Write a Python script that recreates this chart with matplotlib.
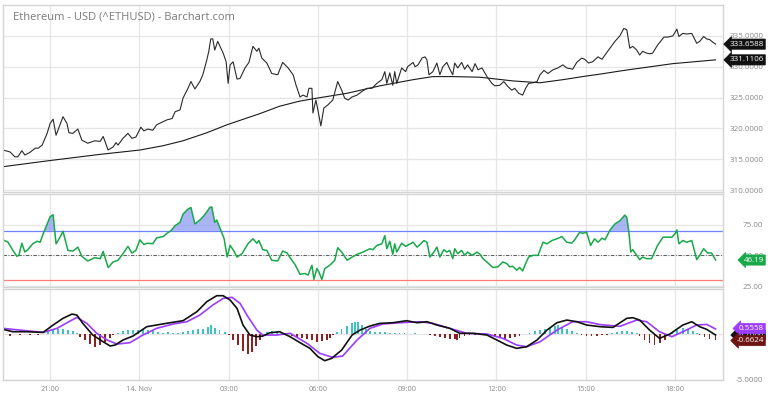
import numpy as np
import pandas as pd
import matplotlib
matplotlib.use('Agg')
import matplotlib.pyplot as plt
import matplotlib.dates as mdates
from matplotlib.ticker import FuncFormatter
import matplotlib.transforms as mtransforms

plt.rcParams['font.family'] = ['Open Sans', 'DejaVu Sans']

# minutes after 13 Nov 19:25 for every series
price_t = [0, 14, 24, 30, 38, 44, 54, 65, 71, 79,
           89, 95, 101, 107, 115, 121, 129, 133, 141, 151,
           159, 171, 185, 196, 202, 212, 222, 228, 232, 242,
           252, 260, 268, 278, 284, 292, 302, 310, 323, 331,
           341, 347, 357, 363, 373, 379, 387, 397, 403, 411,
           415, 419, 423, 427, 433, 444, 450, 454, 458, 464,
           472, 478, 488, 496, 504, 512, 516, 522, 532, 542, 554,
           564, 575, 585, 591, 599, 605, 613, 617, 623, 625,
           631, 635, 641, 647, 655, 665, 675, 683, 689, 696,
           704, 714, 724, 734, 744, 754, 764, 770, 774, 780,
           786, 790, 794, 804, 812, 816, 827, 831, 837, 845,
           851, 855, 859, 867, 875, 881, 887, 895, 901, 907,
           911, 917, 925, 931, 937, 946, 952, 958, 966, 976,
           986, 992, 1002, 1010, 1018, 1026, 1032, 1040, 1048, 1054,
           1060, 1069, 1077, 1083, 1091, 1099, 1109, 1119, 1129, 1137,
           1149, 1157, 1167, 1173, 1181, 1189, 1200,
           1208, 1214, 1224, 1234, 1244, 1252, 1258, 1264, 1270, 1278,
           1284, 1290, 1298, 1304, 1310, 1320, 1333, 1341, 1351, 1359,
           1363, 1371, 1379, 1389, 1399, 1405, 1413, 1419, 1425, 1431, 1437]
price = [316.5, 316.2, 315.4, 315.4, 316.4, 315.7, 316.1, 316.8, 316.8, 317.3,
         319.2, 320.8, 321.5, 318.9, 320.6, 321.9, 320.8, 319.3, 319.2, 319.9,
         318.1, 317.6, 318.0, 317.9, 318.7, 316.5, 317.0, 317.7, 317.3, 318.4,
         319.2, 318.4, 318.6, 320.2, 319.6, 319.9, 319.7, 320.6, 321.1, 321.4,
         321.6, 322.7, 323.0, 324.9, 326.5, 327.6, 326.4, 327.6, 328.7, 331.1,
         332.5, 334.5, 334.5, 332.7, 334.1, 332.2, 330.8, 327.3, 330.3, 330.8,
         328.0, 328.1, 329.8, 330.7, 333.3, 332.5, 333.0, 331.4, 330.6, 328.9, 328.7,
         330.7, 329.8, 328.7, 327.0, 325.1, 325.4, 325.1, 326.5, 326.5, 322.5,
         324.6, 323.0, 320.4, 323.3, 323.8, 324.6, 327.6, 326.2, 324.9, 324.6,
         325.1, 325.4, 326.0, 326.5, 326.5, 327.3, 327.9, 329.2, 327.3, 329.0,
         327.0, 329.2, 327.3, 329.8, 329.2, 330.0, 330.7, 330.0, 330.3, 331.4,
         331.6, 331.1, 328.7, 329.2, 330.6, 328.7, 330.0, 330.7, 329.6, 328.7,
         330.6, 329.8, 330.7, 329.6, 330.3, 329.2, 330.5, 329.5, 329.8, 328.4,
         327.3, 326.9, 327.0, 327.6, 326.8, 326.2, 326.5, 325.7, 325.4, 326.5,
         327.3, 327.4, 327.6, 328.7, 329.4, 328.9, 329.5, 329.8, 330.3, 329.8,
         329.6, 330.7, 331.4, 331.2, 330.6, 330.8, 331.6,
         331.2, 331.9, 333.0, 334.1, 335.0, 336.2, 336.0, 333.0, 333.3, 332.7,
         331.9, 332.5, 332.2, 332.1, 332.2, 333.5, 334.8, 334.8, 335.0, 336.1,
         334.9, 335.4, 335.3, 335.4, 333.8, 334.1, 334.9, 334.5, 334.4, 334.0, 333.6588]

ma_t = [0, 95, 196, 276, 323, 363, 411, 452, 518, 558, 597, 625, 694, 760,
        827, 867, 907, 962, 1028, 1083, 1129, 1177, 1204, 1244, 1270, 1351, 1437]
ma = [313.8, 314.8, 315.8, 316.5, 317.2, 318.0, 319.3, 320.6, 322.4, 323.6, 324.4, 324.8, 325.7, 326.9,
      327.9, 328.4, 328.4, 328.3, 327.7, 327.4, 327.9, 328.5, 328.8, 329.3, 329.6, 330.5, 331.1106]

rsi_t = [0, 10, 20, 28, 32, 38, 44, 50, 60, 69, 75, 81, 89, 95, 101, 107, 115, 121, 131, 141,
         151, 159, 171, 185, 196, 202, 212, 222, 232, 242, 252, 260, 268, 276, 284, 292, 302,
         310, 323, 331, 339, 347, 357, 363, 373, 379, 387, 397, 407, 417, 421, 427, 431, 437,
         446, 452, 458, 464, 472, 482, 494, 504, 512, 516, 524, 532, 542, 554, 564, 573, 579,
         589, 599, 609, 615, 623, 627, 633, 637, 643, 649, 659, 669, 675, 683, 694, 704, 714,
         726, 740, 746, 754, 764, 770, 774, 780, 786, 790, 794, 804, 812, 821, 827, 835, 841,
         849, 855, 861, 869, 875, 881, 889, 895, 901, 907, 911, 917, 925, 931, 937, 946, 956,
         962, 968, 978, 988, 998, 1008, 1016, 1022, 1028, 1036, 1042, 1048, 1054, 1060, 1069,
         1079, 1089, 1097, 1107, 1117, 1127, 1137, 1147, 1153, 1163, 1169, 1177, 1185, 1193,
         1200, 1208, 1214, 1224, 1234, 1244, 1254, 1258, 1262, 1266, 1270, 1278, 1284, 1290,
         1298, 1308, 1320, 1331, 1341, 1349, 1356, 1359, 1363, 1371, 1379, 1389, 1399, 1405,
         1413, 1421, 1429, 1437]
rsi = [62.7, 60.7, 54.0, 49.2, 50.0, 59.9, 52.7, 54.6, 59.4, 61.5, 60.7, 67.5, 75.6, 81.5, 83.1, 59.4, 64.8, 69.6, 54.0, 53.5,
       56.7, 49.2, 45.4, 48.1, 47.3, 53.2, 40.1, 44.6, 46.0, 51.4, 57.3, 51.9, 54.0, 62.7, 58.9, 59.9, 59.4,
       64.3, 65.3, 68.0, 70.2, 74.2, 76.9, 83.6, 87.7, 89.0, 75.6, 78.8, 83.1, 89.0, 89.5, 76.9, 78.8, 72.8,
       63.5, 48.6, 58.1, 54.6, 48.6, 51.4, 59.4, 63.5, 59.9, 62.1, 54.6, 54.0, 46.0, 45.4, 53.5, 51.9, 48.0,
       42.5, 34.5, 35.2, 33.9, 41.9, 30.4, 39.3, 36.5, 30.4, 39.3, 41.9, 46.0, 56.2, 52.7, 46.0, 48.6, 50.8,
       52.7, 55.4, 54.6, 58.1, 59.4, 66.1, 55.4, 61.5, 50.8, 59.4, 52.7, 59.9, 57.3, 59.4, 60.7, 56.7, 58.9,
       62.1, 60.7, 48.6, 52.7, 56.7, 48.6, 54.6, 52.7, 54.0, 47.3, 55.4, 51.4, 54.0, 50.0, 52.7, 50.0, 52.7,
       50.8, 47.3, 43.8, 40.1, 40.6, 44.6, 43.3, 40.6, 41.1, 37.9, 40.1, 37.3, 43.3, 48.6, 50.0,
       50.0, 60.7, 59.4, 62.1, 63.5, 65.3, 60.7, 59.9, 62.7, 68.8, 68.0, 68.8, 58.1, 63.5,
       60.7, 64.0, 62.7, 70.5, 75.6, 78.2, 82.8, 80.9, 69.6, 52.7, 54.6, 50.0, 46.5, 48.6,
       47.3, 47.3, 58.1, 64.8, 64.8, 64.8, 68.0, 70.7, 59.4, 62.1, 60.7, 62.1, 46.5, 50.0,
       55.4, 51.9, 51.9, 46.19]

macd_t = [0, 20, 48, 81, 101, 121, 139, 149, 161, 181, 202, 216, 226, 242, 262, 290, 317, 337, 363, 391,
          411, 431, 444, 458, 472, 484, 498, 512, 524, 538, 558, 579, 599, 619, 635, 649, 663, 683, 704, 720,
          740, 760, 786, 814, 835, 855, 875, 901, 921, 948, 976, 996, 1016, 1036, 1056, 1077, 1097, 1117, 1137, 1157,
          1177, 1204, 1230, 1258, 1270, 1284, 1304, 1324, 1345, 1371, 1389, 1405, 1419, 1437]
macd = [0.51, 0.25, 0.25, 0.18, 0.98, 1.71, 2.17, 2.07, 1.16, -0.11, -0.84, -1.30, -1.20, -0.65, -0.22, 0.80, 1.05, 1.23, 1.45, 2.43,
        3.52, 4.17, 4.17, 3.70, 2.79, 0.98, -0.11, -0.29, -0.22, 0.14, 0.25, -0.29, -0.94, -1.56, -2.46, -2.90, -2.64, -1.74, -0.11, 0.43,
        0.87, 1.16, 1.23, 1.45, 1.23, 1.34, 0.98, 0.62, 0.08, 0.08, -0.11, -0.65, -1.20, -1.56, -1.38, -0.65, 0.43, 1.23, 1.52, 1.34,
        0.98, 0.80, 0.72, 1.71, 1.78, 1.52, 0.43, -0.47, 0.0, 0.98, 1.34, 0.80, 0.51, -0.1066]

signal_t = [0, 34, 81, 109, 129, 149, 169, 189, 210, 230, 256, 282, 310, 343, 371, 397, 423, 444, 462, 478,
            494, 512, 524, 552, 579, 613, 639, 665, 685, 714, 740, 766, 800, 841, 867, 901, 935, 976, 1008, 1036,
            1056, 1083, 1117, 1149, 1177, 1204, 1244, 1278, 1298, 1324, 1349, 1371, 1399, 1419, 1437]
signal = [0.62, 0.43, 0.18, 0.62, 1.23, 1.81, 1.16, 0.08, -0.65, -1.09, -0.94, -0.11, 0.62, 1.09, 1.34, 2.07, 3.15, 3.88, 3.99, 3.34,
          1.88, 0.43, -0.11, -0.11, 0.08, -1.01, -2.10, -2.54, -2.39, -0.65, 0.62, 1.09, 1.23, 1.34, 1.16, 0.62, 0.08, 0.0, -0.47, -1.20,
          -1.38, -0.84, 0.43, 1.34, 1.34, 1.03, 0.84, 1.52, 1.34, 0.25, -0.29, 0.25, 0.98, 1.05, 0.5558]

hist_t = [0, 14, 34, 54, 71, 81, 91, 101, 111, 121, 131, 141, 149, 155, 165, 175, 185, 196, 206, 216,
          222, 232, 242, 252, 262, 272, 282, 292, 302, 312, 323, 333, 343, 353, 363, 373, 383, 393, 403, 413,
          419, 427, 437, 448, 456, 464, 474, 484, 494, 502, 510, 518, 524, 532, 542, 552, 562, 573, 583, 593,
          603, 613, 623, 633, 643, 653, 659, 665, 673, 683, 694, 704, 710, 716, 724, 732, 740, 750, 760, 770,
          780, 790, 800, 810, 821, 831, 841, 851, 861, 871, 881, 891, 901, 911, 915, 921, 931, 941, 952, 962,
          972, 982, 992, 1002, 1012, 1022, 1032, 1042, 1052, 1062, 1073, 1083, 1093, 1103, 1113, 1119, 1127, 1137, 1147, 1157,
          1167, 1177, 1187, 1198, 1208, 1218, 1228, 1238, 1248, 1258, 1268, 1278, 1284, 1294, 1304, 1314, 1325, 1335, 1341, 1349,
          1359, 1371, 1381, 1391, 1399, 1405, 1415, 1425, 1437]
hist = [-0.15, -0.2, -0.15, -0.1, -0.15, 0.05, 0.3, 0.4, 0.5, 0.5, 0.45, 0.3, 0.1, -0.3, -0.7, -1.1, -1.38, -1.2, -0.9, -0.4,
        -0.1, 0.1, 0.3, 0.4, 0.45, 0.45, 0.5, 0.4, 0.3, 0.2, 0.15, 0.2, 0.15, 0.15, 0.2, 0.35, 0.4, 0.5, 0.6, 0.8,
        1.0, 0.7, 0.4, 0.2, -0.1, -0.6, -1.2, -1.8, -2.17, -1.9, -1.3, -0.6, 0.0, 0.2, 0.3, 0.3, 0.25, 0.1, -0.2, -0.3,
        -0.4, -0.5, -0.7, -0.84, -0.8, -0.6, -0.4, -0.1, 0.2, 0.5, 0.9, 1.2, 1.34, 1.3, 1.0, 0.6, 0.3, 0.2, 0.2, 0.2,
        0.15, 0.15, 0.1, 0.1, 0.05, 0.1, 0.05, 0.05, -0.1, -0.2, -0.3, -0.4, -0.5, -0.55, -0.65, -0.4, -0.2, -0.1, -0.05, 0.05,
        0.0, -0.1, -0.2, -0.4, -0.5, -0.4, -0.3, -0.2, 0.0, 0.15, 0.3, 0.4, 0.5, 0.7, 0.9, 0.98, 0.8, 0.5, 0.3, 0.1,
        -0.1, -0.2, -0.25, -0.2, -0.15, -0.05, 0.1, 0.25, 0.3, 0.3, 0.25, 0.1, -0.2, -0.6, -1.0, -1.2, -1.0, -0.6, -0.2, 0.1,
        0.4, 0.62, 0.5, 0.3, 0.1, -0.1, -0.3, -0.5, -0.6624]

start = pd.Timestamp('2017-11-13 19:25')


def tnum(mins):
    return mdates.date2num(start + pd.to_timedelta(mins, unit='m'))


GRID = '#e6e6e6'
EDGE = '#d4d4d4'
LBL = '#8a8a8a'

fig = plt.figure(figsize=(7.68, 3.96), dpi=100)
L, W = 3 / 768, 720 / 768
ax1 = fig.add_axes([L, 1 - 192 / 396, W, 187 / 396])
ax2 = fig.add_axes([L, 1 - 287 / 396, W, 93 / 396], sharex=ax1)
ax3 = fig.add_axes([L, 1 - 380 / 396, W, 91 / 396], sharex=ax1)

for ax in (ax1, ax2, ax3):
    ax.yaxis.tick_right()
    ax.tick_params(axis='y', length=0, pad=29, labelsize=5.8, labelcolor=LBL)
    ax.tick_params(axis='x', length=0, pad=4, labelsize=5.3, labelcolor=LBL)
    ax.grid(True, color=GRID, lw=0.9)
    ax.set_axisbelow(True)
    for s in ax.spines.values():
        s.set_color(EDGE)
        s.set_linewidth(1.0)

# price panel
ax1.plot(tnum(ma_t), ma, color='#1a1a1a', lw=0.8)
ax1.plot(tnum(price_t), price, color='#2a2a2a', lw=0.8)
ax1.set_ylim(309.7, 340.0)
ax1.set_yticks([310, 315, 320, 325, 330, 335])
ax1.set_yticklabels(['%.4f' % v for v in [310, 315, 320, 325, 330, 335]])
ax1.text(0.014, 0.936, 'Ethereum - USD (^ETHUSD) - Barchart.com', transform=ax1.transAxes,
         fontsize=8, color='#7a7a7a', va='center', ha='left')

# RSI panel
rt = tnum(rsi_t)
rv = np.array(rsi)
ax2.fill_between(rt, rv, 70, where=rv > 70, interpolate=True, color='#8e9cf2', alpha=0.75, lw=0)
ax2.fill_between(rt, rv, 30, where=rv < 30, interpolate=True, color='#f29090', alpha=0.75, lw=0)
ax2.axhline(70, color='#6f82ff', lw=0.9)
ax2.axhline(30, color='#ff7a7a', lw=0.9)
ax2.axhline(50, color='#444444', lw=0.6, ls=(0, (4, 2, 1, 2)))
ax2.plot(rt, rv, color='#19a84a', lw=1.1)
ax2.set_ylim(24.2, 100)
ax2.set_yticks([25, 50, 75])
ax2.set_yticklabels(['25.00', '50.00', '75.00'])

# MACD panel
ht = tnum(hist_t)
hv = np.array(hist)
ax3.bar(ht, hv, width=3.2 / 1440, color=np.where(hv >= 0, '#3cc2c4', '#8b2121'), lw=0)
ax3.plot(tnum(signal_t), signal, color='#9b3cff', lw=1.2)
ax3.plot(tnum(macd_t), macd, color='#111111', lw=1.2)
ax3.set_ylim(-5.0, 4.9)
ax3.set_yticks([-5, 0])
ax3.set_yticklabels(['-5.0000', ''])

for ax in (ax1, ax2, ax3):
    for lab in ax.get_yticklabels():
        lab.set_horizontalalignment('right')

ax1.set_xlim(tnum(0), tnum(1452))
ax3.xaxis.set_major_locator(mdates.HourLocator(byhour=range(0, 24, 3)))


def fmt(x, pos):
    d = mdates.num2date(x)
    return f'{d.day}. {d:%b}' if d.hour == 0 else d.strftime('%H:%M')


ax3.xaxis.set_major_formatter(FuncFormatter(fmt))
plt.setp(ax1.get_xticklabels(), visible=False)
plt.setp(ax2.get_xticklabels(), visible=False)


def tag(ax, y, txt, col):
    tr = mtransforms.blended_transform_factory(ax.transAxes, ax.transData)
    ax.text(1.0565, y, txt, transform=tr, ha='right', va='center', fontsize=5.8, color='white',
            clip_on=False, zorder=10,
            bbox=dict(boxstyle='larrow,pad=0.2', fc=col, ec=col, lw=0.5))


tag(ax1, price[-1], '%.4f' % price[-1], '#111111')
tag(ax1, ma[-1], '%.4f' % ma[-1], '#111111')
tag(ax2, rsi[-1], '%.2f' % rsi[-1], '#19a84a')
tag(ax3, macd[-1], '%.4f' % macd[-1], '#111111')
tag(ax3, signal[-1] + 0.05, '%.4f' % signal[-1], '#9b3cff')
tag(ax3, hist[-1] - 0.05, '%.4f' % hist[-1], '#6e1414')

fig.savefig('out.png', dpi=100, facecolor='white')
